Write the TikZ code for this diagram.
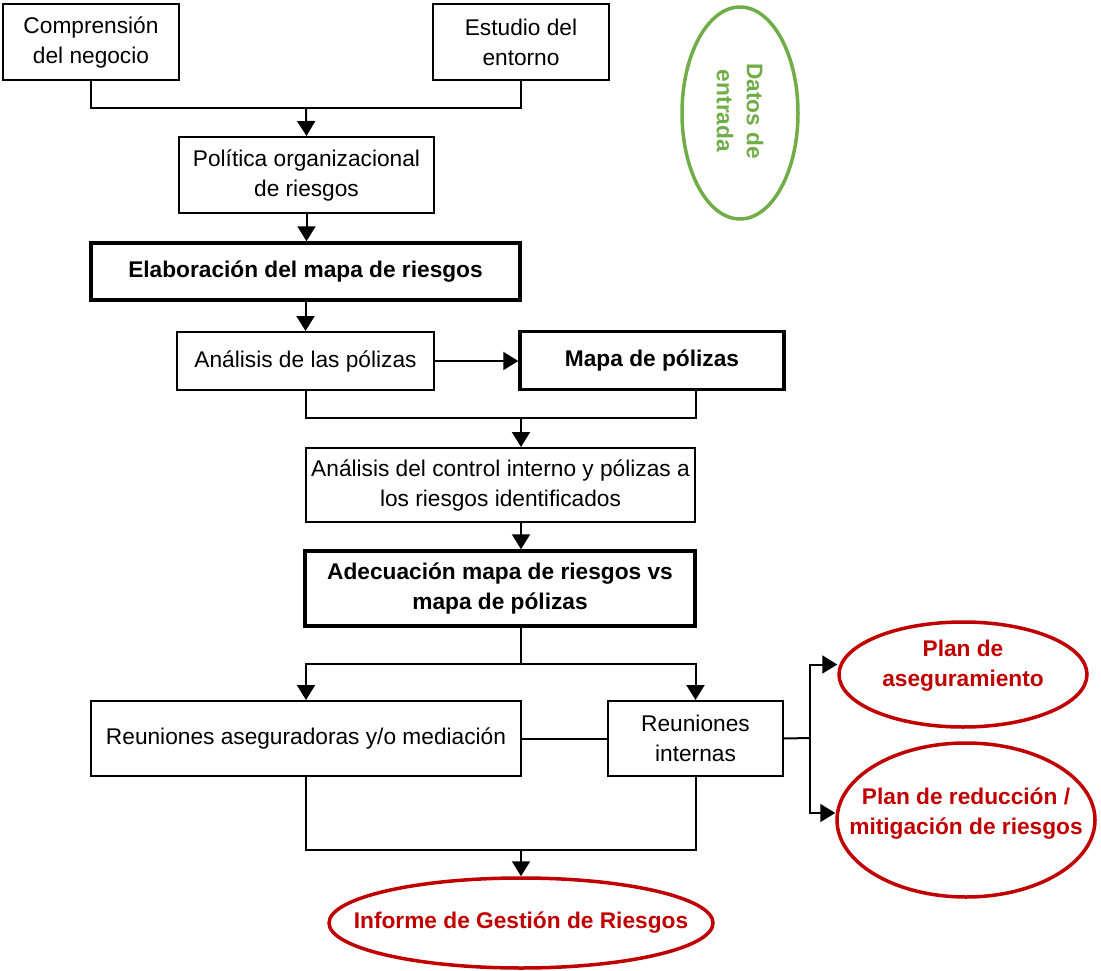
\documentclass[tikz,border=0pt]{standalone}
\usepackage{fontspec}
\setmainfont{Liberation Sans}
\usetikzlibrary{arrows.meta,shapes.geometric}
\definecolor{gr}{HTML}{70AD47}
\definecolor{rd}{HTML}{C00000}
\begin{document}
\begin{tikzpicture}[x=1pt,y=-1pt,
  every node/.style={font=\fontsize{22.7}{30}\selectfont},
  box/.style={draw,line width=2pt,rectangle,inner sep=0pt,align=center},
  tbox/.style={box,line width=3.5pt,font=\fontsize{22.7}{30}\selectfont\bfseries},
  conn/.style={line width=2pt},
  arr/.style={conn,-{Triangle[length=15pt,width=18pt]}},
  oval/.style={draw,ellipse,line width=3.5pt,inner sep=0pt},
  lbl/.style={align=center,font=\fontsize{22.7}{30}\selectfont\bfseries}]
\useasboundingbox (0,0) rectangle (1101,971);

% boxes
\node[box,minimum width=176pt,minimum height=76pt] (A) at (91,42) {Comprensión\\del negocio};
\node[box,minimum width=176pt,minimum height=76pt] (B) at (521,42) {Estudio del\\entorno};
\node[box,minimum width=255pt,minimum height=76pt] (pol) at (306.5,175) {Política organizacional\\de riesgos};
\node[tbox,minimum width=429pt,minimum height=57pt] (elab) at (305.5,271.5) {Elaboración del mapa de riesgos};
\node[box,minimum width=257pt,minimum height=58pt] (anp) at (305.5,361) {Análisis de las pólizas};
\node[tbox,minimum width=264pt,minimum height=58pt] (mapa) at (652,360.5) {Mapa de pólizas};
\node[box,minimum width=389pt,minimum height=74pt] (ctl) at (500.5,485) {Análisis del control interno y pólizas a\\los riesgos identificados};
\node[tbox,minimum width=390pt,minimum height=75pt] (ade) at (500,588.5) {Adecuación mapa de riesgos vs\\mapa de pólizas};
\node[box,minimum width=430pt,minimum height=75pt] (ra) at (306,738.5) {Reuniones aseguradoras y/o mediación};
\node[box,minimum width=175pt,minimum height=75pt] (ri) at (695.5,738.5) {Reuniones\\internas};

% ovals
\node[oval,draw=gr,minimum width=116pt,minimum height=212pt,
  label={[lbl,text=gr,rotate=-90,xshift=-2pt]center:{Datos de\\entrada}}] (datos) at (740,113) {};
\node[oval,draw=rd,minimum width=248pt,minimum height=105pt,
  label={[lbl,text=rd,yshift=9pt]center:{Plan de\\aseguramiento}}] (pa) at (963,674.5) {};
\node[oval,draw=rd,minimum width=258pt,minimum height=154pt,
  label={[lbl,text=rd,yshift=6pt]center:{Plan de reducción /\\mitigación de riesgos}}] (pr) at (966,820) {};
\node[oval,draw=rd,minimum width=384pt,minimum height=90pt,
  label={[lbl,text=rd]center:{Informe de Gestión de Riesgos}}] (inf) at (521,923) {};

% junctions
\coordinate (m1) at (306,108);
\coordinate (m2) at (521,418);
\coordinate (m4) at (521,664);
\coordinate (m3) at (521,850);
\coordinate (j) at (810,738);

% connectors
\draw[conn] (A.south) |- (m1) -| (B.south);
\draw[arr] (m1) -- (pol.north);
\draw[arr] (pol.south) -- (pol.south |- elab.north);
\draw[arr] (elab.south) -- (anp.north);
\draw[arr] (anp.east) -- (anp.east -| mapa.west);
\draw[conn] (anp.south) |- (m2) -| (mapa.south -| ctl.east);
\draw[arr] (m2) -- (m2 |- ctl.north);
\draw[arr] (m2 |- ctl.south) -- (m2 |- ade.north);
\draw[conn] (m2 |- ade.south) -- (m4);
\draw[arr] (m4) -| (ra.north);
\draw[arr] (m4) -| (ri.north);
\draw[conn] (ra.east) -- (ri.west);
\draw[conn] (ri.east) -- (j);
\draw[arr] (j) |- ([yshift=10pt]pa.west);
\draw[arr] (j) |- ([yshift=7pt]pr.west);
\draw[conn] (ra.south) |- (m3) -| (ri.south);
\draw[arr] (m3) -- (inf.north);
\end{tikzpicture}
\end{document}
